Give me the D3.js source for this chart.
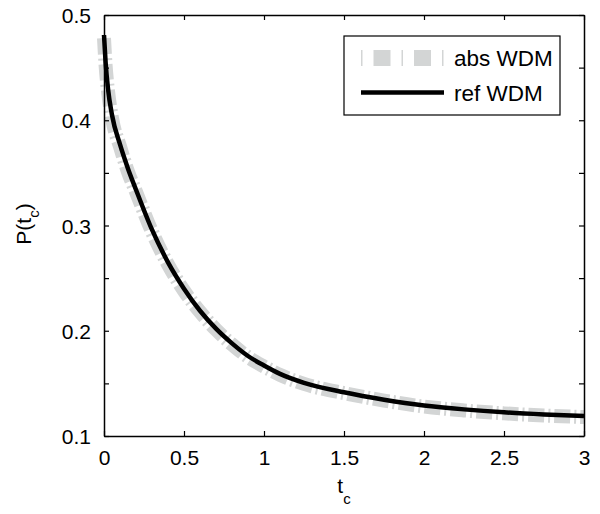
<!DOCTYPE html>
<html><head><meta charset="utf-8">
<script src="https://cdn.jsdelivr.net/npm/d3@7"></script>
<style>
body{margin:0;background:#fff;}
text{font-family:"Liberation Sans",Arial,sans-serif;fill:#000;}
</style></head>
<body><svg id="c" width="600" height="514"></svg>
<script>
const tc = [0, 0.01, 0.025, 0.05, 0.1, 0.15, 0.2, 0.3, 0.4, 0.5, 0.6, 0.7, 0.8, 0.9, 1.0, 1.1, 1.25, 1.5, 1.75, 2.0, 2.25, 2.5, 2.75, 3.0];
const refWDM = [0.481, 0.455, 0.430, 0.405, 0.377, 0.354, 0.334, 0.296, 0.265, 0.240, 0.219, 0.202, 0.188, 0.176, 0.167, 0.159, 0.1505, 0.1415, 0.1345, 0.129, 0.1253, 0.1225, 0.1205, 0.119];
const absWDM = [0.478, 0.452, 0.428, 0.402, 0.375, 0.351, 0.332, 0.294, 0.263, 0.238, 0.218, 0.201, 0.187, 0.175, 0.166, 0.158, 0.1495, 0.1407, 0.1337, 0.128, 0.1243, 0.1215, 0.1195, 0.118];
const xTicks = [0, 0.5, 1, 1.5, 2, 2.5, 3];
const yTicks = [0.1, 0.15, 0.2, 0.25, 0.3, 0.35, 0.4, 0.45, 0.5];
const yLabels = [0.1, 0.2, 0.3, 0.4, 0.5];

const svg = d3.select("#c");
const L = 104, R = 584, T = 15, B = 436;
const x = d3.scaleLinear().domain([0, 3]).range([L, R]);
const y = d3.scaleLinear().domain([0.1, 0.5]).range([B, T]);
const fs = 21;

// lines
const line = d3.line().x((d, i) => x(tc[i])).y(d => y(d)).curve(d3.curveMonotoneX);
svg.append("path").attr("d", line(absWDM)).attr("fill", "none")
  .attr("stroke", "#d3d5d5").attr("stroke-width", 14)
  .attr("stroke-dasharray", "16,4,2,4");
svg.append("path").attr("d", line(refWDM)).attr("fill", "none")
  .attr("stroke", "#000").attr("stroke-width", 4.5);

// axes
const fmt = d => (yLabels.some(v => Math.abs(v - d) < 1e-9) ? d3.format(".1f")(d) : "");
const gx = svg.append("g").attr("transform", `translate(0,${B})`)
  .call(d3.axisBottom(x).tickValues(xTicks).tickSizeInner(-5).tickSizeOuter(0).tickPadding(14).tickFormat(d3.format("")));
const gxt = svg.append("g").attr("transform", `translate(0,${T})`)
  .call(d3.axisTop(x).tickValues(xTicks).tickSizeInner(-5).tickSizeOuter(0).tickFormat(""));
const gy = svg.append("g").attr("transform", `translate(${L},0)`)
  .call(d3.axisLeft(y).tickValues(yTicks).tickSizeInner(-5).tickSizeOuter(0).tickPadding(13).tickFormat(fmt));
const gyr = svg.append("g").attr("transform", `translate(${R},0)`)
  .call(d3.axisRight(y).tickValues(yTicks).tickSizeInner(-5).tickSizeOuter(0).tickFormat(""));
[gx, gxt, gy, gyr].forEach(g => {
  g.select(".domain").attr("stroke", "#000").attr("stroke-width", 1.5);
  g.selectAll(".tick line").attr("stroke", "#000").attr("stroke-width", 1.2);
  g.selectAll(".tick text").style("font-size", fs + "px").style("font-family", '"Liberation Sans",Arial,sans-serif');
});
gy.selectAll(".tick text").attr("dy", "0.36em");

// axis labels
const xl = svg.append("text").attr("x", 344).attr("y", 493).attr("text-anchor", "middle").style("font-size", fs + "px");
xl.append("tspan").text("t");
xl.append("tspan").attr("dy", 11).style("font-size", "15px").text("c");

const yl = svg.append("text").attr("transform", "translate(31,224) rotate(-90)").attr("text-anchor", "middle").style("font-size", fs + "px");
yl.append("tspan").text("P(t");
yl.append("tspan").attr("dy", 8).style("font-size", "15px").text("c");
yl.append("tspan").attr("dy", -8).text(")");

// legend
const lg = svg.append("g");
lg.append("rect").attr("x", 344).attr("y", 36).attr("width", 216).attr("height", 79)
  .attr("fill", "#fff").attr("stroke", "#000").attr("stroke-width", 1.2);
lg.append("line").attr("x1", 361).attr("x2", 444).attr("y1", 58).attr("y2", 58)
  .attr("stroke", "#d3d5d5").attr("stroke-width", 16).attr("stroke-dasharray", "1.5,11,17,11");
lg.append("line").attr("x1", 361).attr("x2", 444).attr("y1", 92.5).attr("y2", 92.5)
  .attr("stroke", "#000").attr("stroke-width", 4.5);
lg.append("text").attr("x", 454).attr("y", 66).style("font-size", "22.5px").text("abs WDM");
lg.append("text").attr("x", 454).attr("y", 101).style("font-size", "22.5px").text("ref WDM");
</script></body></html>
